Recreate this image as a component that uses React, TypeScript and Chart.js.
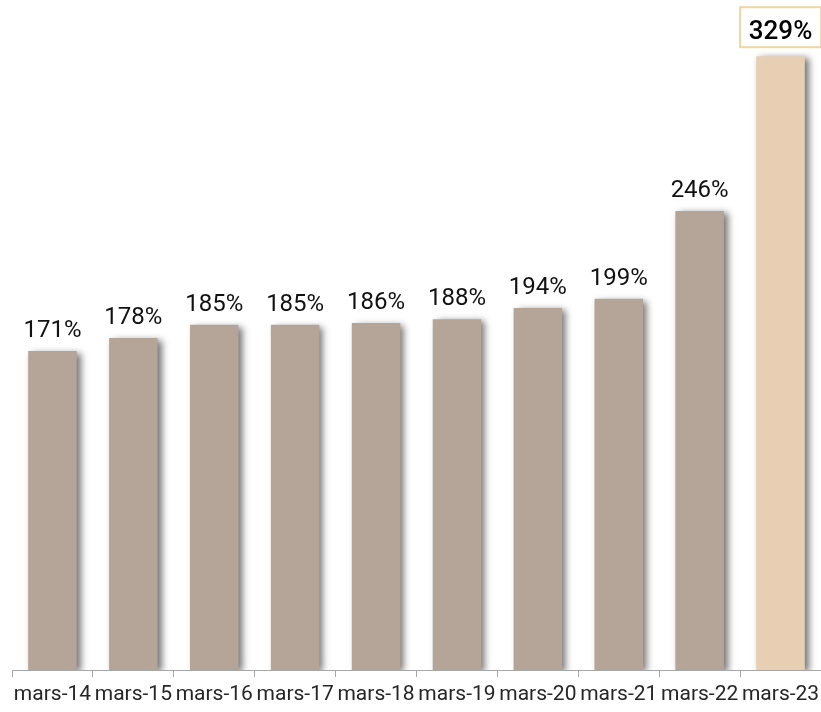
import React, { useEffect, useRef } from "react";
import { Chart, registerables } from "chart.js";

Chart.register(...registerables);

const categories = ["mars-14", "mars-15", "mars-16", "mars-17", "mars-18", "mars-19", "mars-20", "mars-21", "mars-22", "mars-23"];
const values = [171, 178, 185, 185, 186, 188, 194, 199, 246, 329];
const highlightIndex = 9;

const BAR = "#b5a598";
const BAR_HL = "#e8cfb4";
const FONT = "Roboto, 'Noto Sans', sans-serif";

const shadowPlugin = {
  id: "barShadow",
  beforeDatasetsDraw(chart: any) {
    const ctx = chart.ctx;
    ctx.save();
    ctx.shadowColor = "rgba(0,0,0,0.55)";
    ctx.shadowBlur = 7;
    ctx.shadowOffsetX = 4;
    ctx.shadowOffsetY = 2;
  },
  afterDatasetsDraw(chart: any) {
    chart.ctx.restore();
  },
};

const labelPlugin = {
  id: "valueLabels",
  afterDraw(chart: any) {
    const ctx = chart.ctx;
    const meta = chart.getDatasetMeta(0);
    const xScale = chart.scales.x;
    // category labels
    ctx.save();
    ctx.font = `21px ${FONT}`;
    ctx.fillStyle = "#262626";
    ctx.textAlign = "center";
    ctx.textBaseline = "middle";
    categories.forEach((c, i) => {
      ctx.fillText(c, xScale.getPixelForValue(i), xScale.bottom - 17);
    });
    ctx.restore();
    meta.data.forEach((bar: any, i: number) => {
      const txt = values[i] + "%";
      ctx.save();
      ctx.textAlign = "center";
      ctx.textBaseline = "alphabetic";
      if (i === highlightIndex) {
        ctx.font = `500 26px ${FONT}`;
        const w = 81;
        const h = 40;
        const bx = bar.x - w / 2;
        const by = bar.y - 9 - h;
        ctx.fillStyle = "#ffffff";
        ctx.fillRect(bx, by, w, h);
        ctx.strokeStyle = "#f0d6a4";
        ctx.lineWidth = 2;
        ctx.strokeRect(bx, by, w, h);
        ctx.fillStyle = "#000000";
        ctx.fillText(txt, bar.x, by + h - 8);
      } else {
        ctx.font = `24px ${FONT}`;
        ctx.fillStyle = "#111111";
        ctx.fillText(txt, bar.x, bar.y - 14);
      }
      ctx.restore();
    });
  },
};

export default function App() {
  const ref = useRef<HTMLCanvasElement>(null);
  useEffect(() => {
    if (!ref.current) return;
    const chart = new Chart(ref.current, {
      type: "bar",
      data: {
        labels: categories,
        datasets: [
          {
            data: values,
            backgroundColor: values.map((_, i) => (i === highlightIndex ? BAR_HL : BAR)),
            barPercentage: 0.6,
            categoryPercentage: 1,
          },
        ],
      },
      options: {
        animation: false,
        responsive: false,
        maintainAspectRatio: false,
        layout: { padding: { left: 12, right: 0, top: 17, bottom: 0 } },
        plugins: { legend: { display: false }, tooltip: { enabled: false } },
        scales: {
          y: { display: false, min: 0, max: 350 },
          x: {
            offset: true,
            afterFit: (s: any) => {
              s.height = 42;
            },
            grid: {
              display: true,
              drawOnChartArea: false,
              drawTicks: true,
              tickLength: 7,
              color: "#a6a6a6",
              offset: true,
            },
            border: { display: true, color: "#a6a6a6", width: 1 },
            ticks: { display: false, autoSkip: false },
          },
        },
      },
      plugins: [shadowPlugin, labelPlugin],
    });
    return () => chart.destroy();
  }, []);
  return (
    <div style={{ position: "fixed", left: 0, top: 0, width: 821, height: 712, background: "#fff" }}>
      <canvas ref={ref} width={821} height={712} style={{ display: "block" }} />
    </div>
  );
}
